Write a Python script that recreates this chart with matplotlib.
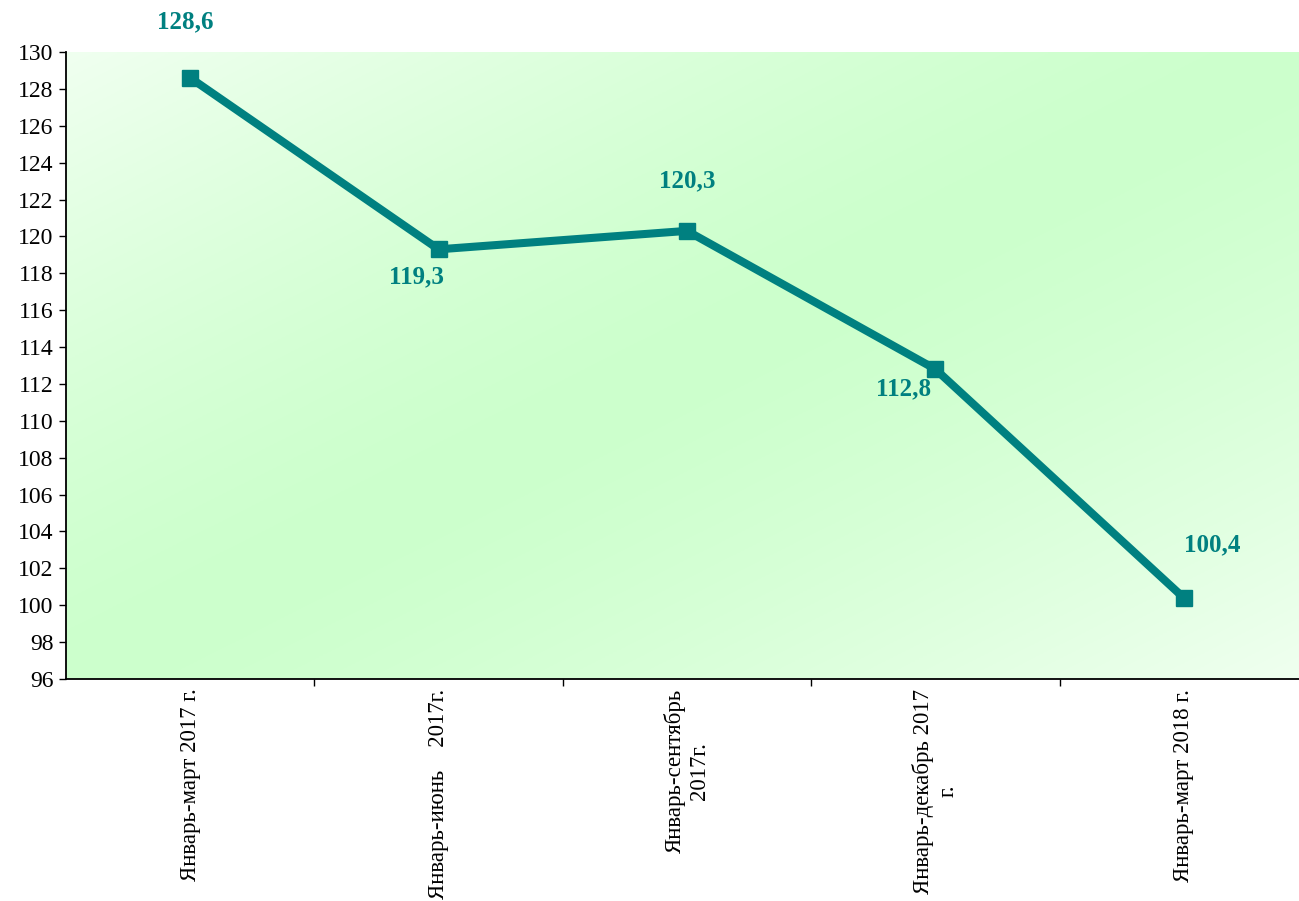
import numpy as np
import matplotlib
matplotlib.use("Agg")
from matplotlib import pyplot as plt
from matplotlib.colors import to_rgb

# data
periods = ["Январь-март 2017 г.",
           "Январь-июнь    2017г.",
           "Январь-сентябрь\n2017г.",
           "Январь-декабрь 2017\nг.",
           "Январь-март 2018 г."]
values = [128.6, 119.3, 120.3, 112.8, 100.4]
value_labels = ["128,6", "119,3", "120,3", "112,8", "100,4"]
# label offsets in pixels from each point
label_offsets = [(-5, 56), (-22, -27), (0, 50), (-32, -20), (28, 53)]

plt.rcParams['font.family'] = ['Liberation Serif', 'DejaVu Serif']

fig = plt.figure(figsize=(12.99, 9.01), dpi=100)
ax = fig.add_axes([66/1299, 1 - 679/901, 1242/1299, 627/901])

# diagonal gradient background: light corners, green middle band
light = np.array(to_rgb("#f0fff0"))
green = np.array(to_rgb("#ccffcc"))
u = np.linspace(0, 1, 300)
v = np.linspace(0, 1, 300)
U, V = np.meshgrid(u, v)
t = np.abs((U + V) - 1.0) ** 1.4
img = green + (light - green) * t[..., None]
ax.imshow(img, extent=[0, 1, 0, 1], transform=ax.transAxes, aspect='auto',
          zorder=0, origin='upper')

x = np.arange(len(values))
ax.plot(x, values, color="#008080", linewidth=5.8, marker='s', markersize=11,
        zorder=3, solid_joinstyle='miter')

for xi, yi, lab, off in zip(x, values, value_labels, label_offsets):
    ax.annotate(lab, (xi, yi), xytext=off, textcoords='offset pixels',
                ha='center', va='center', fontsize=18, fontweight='bold',
                color="#008080", zorder=4)

ax.set_xlim(-0.5, 4.5)
ax.set_ylim(96, 130)
ax.set_yticks(np.arange(96, 131, 2))
ax.tick_params(axis='y', labelsize=17, length=5, width=1, direction='out', pad=4)

ax.set_xticks(x)
ax.set_xticklabels(periods, rotation=90, fontsize=16.5, ha='center', va='top',
                   multialignment='center')
ax.tick_params(axis='x', which='major', length=0, pad=7)
ax.set_xticks(np.arange(0.5, 4.5, 1), minor=True)
ax.tick_params(axis='x', which='minor', length=5, width=1, direction='out')

for side in ['top', 'right']:
    ax.spines[side].set_visible(False)
for side in ['left', 'bottom']:
    ax.spines[side].set_linewidth(1.3)
    ax.spines[side].set_zorder(5)

plt.savefig('out.png', dpi=100)
